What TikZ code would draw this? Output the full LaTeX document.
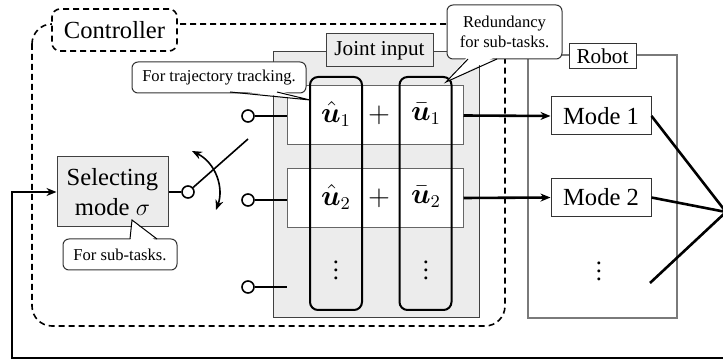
\documentclass[tikz,border=0pt]{standalone}
\usepackage{fontspec}
\usepackage{amsmath,bm}
\setmainfont{Liberation Serif}
\usepackage{tikz}
\usetikzlibrary{arrows.meta}

\definecolor{panelgray}{HTML}{ECECEC}
\definecolor{edgegray}{HTML}{7A7A7A}

\tikzset{
  bigfont/.style={font=\fontsize{12.3}{15}\selectfont},
  midfont/.style={font=\fontsize{10.6}{13}\selectfont},
  smallfont/.style={font=\fontsize{8.3}{10}\selectfont},
  mathfont/.style={font=\fontsize{13.5}{16}\selectfont},
  ctrlline/.style={draw=black,dashed,dash pattern=on 3pt off 2pt,line width=0.8pt},
  tabbox/.style={ctrlline,rounded corners=4pt,fill=white,minimum width=62.5pt,minimum height=21pt,bigfont},
  panel/.style={draw=black!75,fill=panelgray,line width=0.5pt,inner sep=0pt},
  rowbox/.style={draw=black!60,fill=white,line width=0.5pt,minimum width=88pt,minimum height=29.5pt},
  colbox/.style={draw=black,line width=1pt,rounded corners=4pt,minimum width=26pt,minimum height=116.5pt},
  modebox/.style={draw=black!80,fill=white,line width=0.5pt,minimum width=50pt,minimum height=19pt,bigfont},
  callout/.style={draw=black!80,fill=white,line width=0.5pt,rounded corners=3pt,align=center,smallfont},
  term/.style={circle,draw=black,fill=white,line width=0.8pt,minimum size=6pt,inner sep=0pt},
  sig/.style={draw=black,line width=1.3pt},
  wire/.style={draw=black,line width=0.8pt},
}

\begin{document}
\begin{tikzpicture}[x=0.5pt,y=-0.5pt,>={Stealth[length=5pt,width=4pt]},bigfont]
\useasboundingbox (0,0) rectangle (723,363);

% controller region
\draw[ctrlline,rounded corners=10pt] (32,24) rectangle (505,326);
\node[tabbox] (ctrl) at (114.5,30) {Controller};

% joint input panel
\node[panel,minimum width=103pt,minimum height=133pt] (joint) at (376,185) {};
\node[panel,minimum width=53.5pt,minimum height=16.5pt,midfont] (jointlbl) at (379.5,50.5) {Joint input};
\node[rowbox] (row1) at (375,115.5) {};
\node[rowbox] (row2) at (375,198) {};
\node[colbox] (colhat) at (336,193.5) {};
\node[colbox] (colbar) at (425.5,193.5) {};
\node[mathfont] (uhat1) at (336,114) {$\hat{\bm{u}}_1$};
\node[mathfont] (plus1) at (379,115) {$+$};
\node[mathfont] (ubar1) at (426,114) {$\bar{\bm{u}}_1$};
\node[mathfont] (uhat2) at (336,197) {$\hat{\bm{u}}_2$};
\node[mathfont] (plus2) at (379,198) {$+$};
\node[mathfont] (ubar2) at (426,197) {$\bar{\bm{u}}_2$};
\node (hdots) at (336,264) {$\vdots$};
\node (bdots) at (426,264) {$\vdots$};

% robot
\node[draw=edgegray,fill=white,line width=0.7pt,minimum width=74.5pt,minimum height=131.5pt] (robot) at (602.5,186.5) {};
\node[modebox,minimum width=33.5pt,minimum height=12.5pt,inner sep=0pt,midfont] (robotlbl) at (602.5,56.5) {Robot};
\node[modebox] (mode1) at (601,116) {Mode 1};
\node[modebox] (mode2) at (601,197.5) {Mode 2};
\node (rdots) at (599,265) {$\vdots$};

% selector and switch
\node[panel,minimum width=55.5pt,minimum height=35pt,align=center,font=\fontsize{12.3}{15}\selectfont] (sel) at (112.5,192) {Selecting\\mode $\sigma$};
\node[term] (pivot) at (188,192) {};
\node[term] (in1) at (248,116) {};
\node[term] (in2) at (248,200) {};
\node[term] (in3) at (248,287) {};
\coordinate (blade) at (248,139);
\coordinate (in3end) at (287,287);
\draw[wire] (sel.east) -- (pivot);
\draw[wire] (pivot) -- (blade);
\draw[wire] (in1) -- (in1 -| row1.west);
\draw[wire] (in2) -- (in2 -| row2.west);
\draw[wire] (in3) -- (in3end);
\draw[wire,<->] (192,151) .. controls (216,163) and (224,188) .. (216,210);

% outputs
\draw[sig,->] (row1.east) -- (mode1.west);
\draw[sig,->] (row2.east) -- (mode2.west);
\coordinate (meet) at (726,212);
\coordinate (rlast) at (650,283);
\draw[sig] (mode1.east) -- (meet);
\draw[sig] (mode2.east) -- (meet);
\draw[sig] (rlast) -- (meet);

% feedback
\coordinate (fbin) at (726,358);
\coordinate (fbcorner) at (12,358);
\draw[sig,->] (fbin) -- (fbcorner) |- (sel.west);

% callouts
\node[callout,minimum width=87pt,minimum height=15.5pt] (traj) at (219,77.5) {For trajectory tracking.};
\fill[white] (230,90) -- (310,100) -- (277,90) -- cycle;
\draw[line width=0.5pt] (230,92) -- (310,100) -- (277,92);
\node[callout,minimum width=57.5pt,minimum height=27pt] (redund) at (504.5,32) {Redundancy\\for sub-tasks.};
\fill[white] (468,56) -- (446,82) -- (497,56) -- cycle;
\draw[line width=0.5pt] (468,59) -- (446,82) -- (497,59);
\node[callout,minimum width=57pt,minimum height=15.5pt] (subtask) at (120,254.5) {For sub-tasks.};
\fill[white] (130,242) -- (132,220) -- (157,242) -- cycle;
\draw[line width=0.5pt] (130,239) -- (132,220) -- (157,239);
\end{tikzpicture}
\end{document}
